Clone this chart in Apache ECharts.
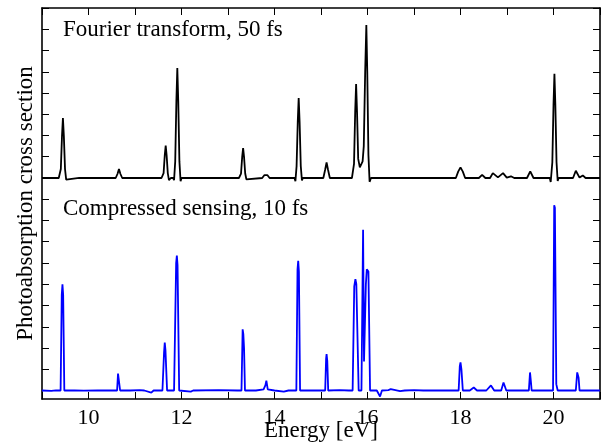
<!DOCTYPE html>
<html>
<head>
<meta charset="utf-8">
<script src="https://cdn.jsdelivr.net/npm/echarts@6/dist/echarts.min.js"></script>
<style>html,body{margin:0;padding:0;background:#fff}#c{width:602px;height:447px}</style>
</head>
<body>
<div id="c"></div>
<script>
// Energy axis ticks and labels
const xTickValues = [9, 10, 11, 12, 13, 14, 15, 16, 17, 18, 19, 20, 21];
const xLabelValues = [10, 12, 14, 16, 18, 20];
const yTickValues = [0,1,2,3,4,5,6,7,8,9,10,11,12,13,14,15,16,17,18];

// Fourier transform, 50 fs  (baseline 0)
const ftSpectrum = [
  [9.0,0],[9.2,0.01],
  [9.36,0],[9.38,-0.08],[9.405,0.42],[9.43,1.97],[9.45,2.82],[9.47,1.97],[9.495,0.42],[9.52,-0.08],[9.54,0],
  [9.8,0.01],[10.2,0],
  [10.585,0],[10.625,0.2],[10.655,0.42],[10.685,0.2],[10.725,0],
  [11.2,0],
  [11.57,0],[11.59,-0.06],[11.615,0.23],[11.64,1.07],[11.66,1.53],[11.68,1.07],[11.705,0.23],[11.73,-0.1],[11.77,0],
  [11.82,0],[11.84,-0.1],[11.865,0.78],[11.89,3.62],[11.91,5.17],[11.93,3.62],[11.955,0.78],[11.98,-0.15],[12.0,0],
  [12.5,0.01],[13.0,0],
  [13.235,0],[13.255,-0.06],[13.28,0.21],[13.305,0.99],[13.325,1.41],[13.345,0.99],[13.37,0.21],[13.395,-0.06],[13.415,0],
  [13.735,0],[13.785,0.14],[13.815,0.2],[13.845,0.14],[13.895,0],
  [14.2,0],
  [14.43,0],[14.45,-0.15],[14.475,0.56],[14.5,2.63],[14.52,3.76],[14.54,2.63],[14.565,0.56],[14.59,-0.12],[14.61,0],
  [15.05,0],[15.09,0.4],[15.12,0.73],[15.15,0.4],[15.19,0],
  [15.5,0],
  [15.665,0],[15.685,-0.08],[15.71,0.66],[15.735,3.1],[15.755,4.42],[15.775,3.1],[15.8,0.9],[15.835,0.5],[15.865,0.47],
  [15.895,0.78],[15.92,1.5],[15.95,5.0],[15.975,7.2],[15.995,5.0],[16.02,1.08],[16.045,-0.18],[16.075,0],
  [16.5,0.01],[17.0,0],[17.5,0],
  [17.9,0],[17.95,0.3],[18.0,0.5],[18.05,0.3],[18.1,0],
  [18.395,0],[18.465,0.15],[18.535,0],[18.635,0],
  [18.695,0.23],[18.805,0.03],[18.915,0.23],[18.995,0.02],[19.085,0.08],[19.155,0],
  [19.43,0],[19.5,0.31],[19.57,0],
  [19.85,0],
  [19.92,0],[19.94,-0.19],[19.975,0.74],[20.0,3.43],[20.02,4.9],[20.04,3.43],[20.065,0.74],[20.09,-0.14],[20.11,0],
  [20.3,0],
  [20.42,0],[20.48,0.34],[20.56,0.02],[20.63,0.12],[20.69,0],
  [21.0,0]
];

// Compressed sensing, 10 fs (baseline 0)
const csSpectrum = [
  [9.0,0],[9.2,-0.02],[9.3,0.01],
  [9.4,0],[9.425,4.5],[9.44,5.0],[9.455,4.5],[9.48,0],
  [9.7,0.01],[9.9,-0.01],[10.2,0.01],[10.4,0],
  [10.615,0],[10.635,0.8],[10.645,0.89],[10.66,0.8],[10.68,0],
  [10.9,0],[11.1,0.02],[11.2,0],[11.35,-0.1],[11.4,0],
  [11.59,0],[11.625,1.8],[11.64,2.26],[11.655,1.9],[11.69,0],
  [11.79,0],
  [11.84,0],[11.885,6.0],[11.9,6.35],[11.915,5.9],[11.95,0],
  [12.2,-0.05],[12.25,0],[12.8,0.02],[13.2,0],
  [13.29,0],[13.315,2.88],[13.33,2.65],[13.345,2.0],[13.365,0],
  [13.6,0],[13.765,0.05],[13.805,0.25],[13.825,0.46],[13.855,0.05],[14.0,0],[14.2,-0.05],[14.3,0],
  [14.47,0],[14.495,5.7],[14.51,6.1],[14.525,5.6],[14.55,0],
  [14.8,0.01],[15.0,0],
  [15.09,0],[15.11,1.5],[15.12,1.71],[15.135,1.4],[15.155,0],
  [15.4,0.02],[15.6,0],
  [15.68,0],[15.715,4.9],[15.74,5.24],[15.76,5.0],[15.81,0],[15.87,0],
  [15.905,7.56],[15.925,1.36],[15.94,1.36],[15.965,5.0],[15.985,5.7],[16.02,5.6],[16.055,0],
  [16.2,0],[16.27,-0.28],[16.31,0],[16.45,0.02],[16.5,0.07],[16.54,0],[16.7,-0.03],[16.8,0],
  [17.0,0.02],[17.2,0],[17.5,0.01],[17.85,0],
  [17.96,0],[17.985,1.15],[18.0,1.32],[18.02,1.0],[18.05,0],
  [18.2,0],[18.285,0.14],[18.355,0],
  [18.555,0],[18.655,0.24],[18.725,0],
  [18.875,0],[18.925,0.38],[18.985,0],
  [19.4,0],[19.47,0],[19.495,0.85],[19.515,0.4],[19.53,0],
  [19.7,0],[19.99,0],[20.015,8.72],[20.03,8.6],[20.06,0.3],[20.09,0],
  [20.3,0],[20.48,0],[20.51,0.85],[20.54,0.6],[20.56,0],
  [20.8,0],[21.0,0]
];

const titleTop = 'Fourier transform, 50 fs';
const titleBottom = 'Compressed sensing, 10 fs';
const xName = 'Energy [eV]';
const yName = 'Photoabsorption cross section';

const TOP_OFFSET = 10;
const FONT = 'Liberation Serif';

const chart = echarts.init(document.getElementById('c'), null, {renderer: 'canvas'});
const axisLine = {show: true, onZero: false, lineStyle: {color: '#000', width: 1.6}};
const tick = {show: true, inside: true, length: 7, lineStyle: {color: '#000', width: 1}};

chart.setOption({
  animation: false,
  backgroundColor: '#fff',
  grid: {left: 42, right: 2, top: 8, bottom: 48, containLabel: false, outerBoundsMode: 'none'},
  graphic: [
    {type: 'text', left: 63, top: 18, style: {text: titleTop, font: '23px "' + FONT + '"', fill: '#000'}},
    {type: 'text', left: 63, top: 197, style: {text: titleBottom, font: '23px "' + FONT + '"', fill: '#000'}}
  ],
  xAxis: [
    {type: 'value', position: 'bottom', min: 9, max: 21, interval: 1,
     axisLine: axisLine, axisTick: tick, splitLine: {show: false},
     axisLabel: {show: true, margin: 8, color: '#000', fontFamily: FONT, fontSize: 22,
       formatter: v => xLabelValues.indexOf(v) >= 0 ? String(v) : ''},
     name: xName, nameLocation: 'middle', nameGap: 20, nameMoveOverlap: false,
     nameTextStyle: {color: '#000', fontFamily: FONT, fontSize: 23}},
    {type: 'value', position: 'top', min: 9, max: 21, interval: 1,
     axisLine: axisLine, axisTick: tick, splitLine: {show: false}, axisLabel: {show: false}}
  ],
  yAxis: [
    {type: 'value', position: 'left', min: -0.4, max: 18,
     axisLine: axisLine, axisTick: Object.assign({customValues: yTickValues}, tick),
     splitLine: {show: false}, axisLabel: {show: false},
     name: yName, nameLocation: 'middle', nameGap: 5, nameMoveOverlap: false,
     nameTextStyle: {color: '#000', fontFamily: FONT, fontSize: 23}},
    {type: 'value', position: 'right', min: -0.4, max: 18,
     axisLine: axisLine, axisTick: Object.assign({customValues: yTickValues}, tick),
     splitLine: {show: false}, axisLabel: {show: false}}
  ],
  series: [
    {type: 'line', name: titleTop, xAxisIndex: 0, yAxisIndex: 0, showSymbol: false, smooth: false,
     lineStyle: {color: '#000', width: 1.8}, itemStyle: {color: '#000'},
     data: ftSpectrum.map(p => [p[0], p[1] + TOP_OFFSET])},
    {type: 'line', name: titleBottom, xAxisIndex: 0, yAxisIndex: 0, showSymbol: false, smooth: false,
     lineStyle: {color: '#0000ff', width: 1.8}, itemStyle: {color: '#0000ff'},
     data: csSpectrum}
  ]
});
</script>
</body>
</html>
